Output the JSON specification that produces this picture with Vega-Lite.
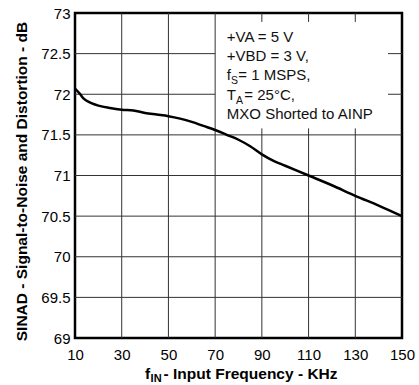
{
  "$schema": "https://vega.github.io/schema/vega-lite/v6.json",
  "width": 327,
  "height": 325,
  "autosize": {"type": "none"},
  "padding": {"left": 75, "top": 13, "right": 17, "bottom": 47},
  "background": "white",
  "config": {
    "font": "Liberation Sans",
    "view": {"stroke": "black", "strokeWidth": 2.5},
    "axis": {
      "grid": false,
      "ticks": false,
      "domain": false,
      "labelFont": "Liberation Sans",
      "labelFontSize": 15,
      "labelColor": "black",
      "titleFont": "Liberation Sans",
      "titleColor": "black"
    }
  },
  "datasets": {
    "curve": [
      {"f": 10, "sinad": 72.07},
      {"f": 11, "sinad": 72.04},
      {"f": 12, "sinad": 72.01},
      {"f": 13, "sinad": 71.97},
      {"f": 14, "sinad": 71.94},
      {"f": 15, "sinad": 71.92},
      {"f": 17, "sinad": 71.89},
      {"f": 20, "sinad": 71.86},
      {"f": 25, "sinad": 71.83},
      {"f": 30, "sinad": 71.81},
      {"f": 35, "sinad": 71.8},
      {"f": 40, "sinad": 71.77},
      {"f": 45, "sinad": 71.75},
      {"f": 50, "sinad": 71.73},
      {"f": 55, "sinad": 71.7},
      {"f": 60, "sinad": 71.66},
      {"f": 65, "sinad": 71.61},
      {"f": 70, "sinad": 71.56},
      {"f": 75, "sinad": 71.5},
      {"f": 80, "sinad": 71.44},
      {"f": 85, "sinad": 71.36},
      {"f": 90, "sinad": 71.26},
      {"f": 95, "sinad": 71.18},
      {"f": 100, "sinad": 71.12},
      {"f": 105, "sinad": 71.06},
      {"f": 110, "sinad": 71.0},
      {"f": 120, "sinad": 70.88},
      {"f": 130, "sinad": 70.75},
      {"f": 140, "sinad": 70.63},
      {"f": 150, "sinad": 70.5}
    ],
    "grid": [
      {"g": "v30", "x": 30, "y": 69}, {"g": "v30", "x": 30, "y": 73},
      {"g": "v50", "x": 50, "y": 69}, {"g": "v50", "x": 50, "y": 73},
      {"g": "v70", "x": 70, "y": 69}, {"g": "v70", "x": 70, "y": 73},
      {"g": "v90a", "x": 90, "y": 69}, {"g": "v90a", "x": 90, "y": 71.58},
      {"g": "v90b", "x": 90, "y": 72.89}, {"g": "v90b", "x": 90, "y": 73},
      {"g": "v110a", "x": 110, "y": 69}, {"g": "v110a", "x": 110, "y": 71.58},
      {"g": "v110b", "x": 110, "y": 72.89}, {"g": "v110b", "x": 110, "y": 73},
      {"g": "v130a", "x": 130, "y": 69}, {"g": "v130a", "x": 130, "y": 71.58},
      {"g": "v130b", "x": 130, "y": 72.89}, {"g": "v130b", "x": 130, "y": 73},
      {"g": "h69.5", "x": 10, "y": 69.5}, {"g": "h69.5", "x": 150, "y": 69.5},
      {"g": "h70", "x": 10, "y": 70}, {"g": "h70", "x": 150, "y": 70},
      {"g": "h70.5", "x": 10, "y": 70.5}, {"g": "h70.5", "x": 150, "y": 70.5},
      {"g": "h71", "x": 10, "y": 71}, {"g": "h71", "x": 150, "y": 71},
      {"g": "h71.5", "x": 10, "y": 71.5}, {"g": "h71.5", "x": 150, "y": 71.5},
      {"g": "h72a", "x": 10, "y": 72}, {"g": "h72a", "x": 70, "y": 72},
      {"g": "h72b", "x": 144, "y": 72}, {"g": "h72b", "x": 150, "y": 72},
      {"g": "h72.5a", "x": 10, "y": 72.5}, {"g": "h72.5a", "x": 70, "y": 72.5},
      {"g": "h72.5b", "x": 144, "y": 72.5}, {"g": "h72.5b", "x": 150, "y": 72.5}
    ],
    "notes": [
      {"kind": "plain", "x": 75, "y": 72.647, "main": "+VA = 5 V", "sub": "", "rest": ""},
      {"kind": "plain", "x": 75, "y": 72.413, "main": "+VBD = 3 V,", "sub": "", "rest": ""},
      {"kind": "fs", "x": 75, "y": 72.17, "main": "f", "sub": "S", "rest": " = 1 MSPS,"},
      {"kind": "ta", "x": 75, "y": 71.93, "main": "T", "sub": "A", "rest": "= 25°C,"},
      {"kind": "plain", "x": 75, "y": 71.69, "main": "MXO Shorted to AINP", "sub": "", "rest": ""}
    ],
    "xtitle": [
      {"x": 40, "y": 68.49, "main": "f", "sub": "IN", "rest": " - Input Frequency - KHz"}
    ]
  },
  "layer": [
    {
      "data": {"name": "grid"},
      "mark": {"type": "line", "color": "#333", "strokeWidth": 1},
      "encoding": {
        "detail": {"field": "g", "type": "nominal"},
        "order": {"field": "y", "type": "quantitative"},
        "x": {
          "field": "x", "type": "quantitative",
          "scale": {"domain": [10, 150], "nice": false, "zero": false},
          "axis": {
            "values": [10, 30, 50, 70, 90, 110, 130, 150],
            "title": null,
            "labelPadding": 9,
            "labelFlush": false,
            "labelOverlap": false
          }
        },
        "y": {
          "field": "y", "type": "quantitative",
          "scale": {"domain": [69, 73], "nice": false, "zero": false},
          "axis": {
            "values": [69, 69.5, 70, 70.5, 71, 71.5, 72, 72.5, 73],
            "format": "~f",
            "labelPadding": 5,
            "labelFlush": false,
            "labelOverlap": false,
            "title": "SINAD - Signal-to-Noise and Distortion - dB",
            "titleFontSize": 15.5,
            "titleFontWeight": "bold",
            "titlePadding": 11,
            "titleY": 168
          }
        }
      }
    },
    {
      "data": {"name": "curve"},
      "mark": {"type": "line", "color": "black", "strokeWidth": 2.5, "interpolate": "monotone"},
      "encoding": {
        "x": {"field": "f", "type": "quantitative"},
        "y": {"field": "sinad", "type": "quantitative"}
      }
    },
    {
      "data": {"name": "notes"},
      "mark": {"type": "text", "align": "left", "baseline": "alphabetic", "fontSize": 15, "color": "#111"},
      "encoding": {
        "x": {"field": "x", "type": "quantitative"},
        "y": {"field": "y", "type": "quantitative"},
        "text": {"field": "main"}
      }
    },
    {
      "data": {"name": "notes"},
      "transform": [{"filter": "datum.kind == 'fs'"}],
      "layer": [
        {
          "mark": {"type": "text", "align": "left", "baseline": "alphabetic", "fontSize": 10.5, "dx": 4.2, "dy": 4, "color": "#111"},
          "encoding": {
            "x": {"field": "x", "type": "quantitative"},
            "y": {"field": "y", "type": "quantitative"},
            "text": {"field": "sub"}
          }
        },
        {
          "mark": {"type": "text", "align": "left", "baseline": "alphabetic", "fontSize": 15, "dx": 11.5, "color": "#111"},
          "encoding": {
            "x": {"field": "x", "type": "quantitative"},
            "y": {"field": "y", "type": "quantitative"},
            "text": {"field": "rest"}
          }
        }
      ]
    },
    {
      "data": {"name": "notes"},
      "transform": [{"filter": "datum.kind == 'ta'"}],
      "layer": [
        {
          "mark": {"type": "text", "align": "left", "baseline": "alphabetic", "fontSize": 10.5, "dx": 9.2, "dy": 4, "color": "#111"},
          "encoding": {
            "x": {"field": "x", "type": "quantitative"},
            "y": {"field": "y", "type": "quantitative"},
            "text": {"field": "sub"}
          }
        },
        {
          "mark": {"type": "text", "align": "left", "baseline": "alphabetic", "fontSize": 15, "dx": 17.5, "color": "#111"},
          "encoding": {
            "x": {"field": "x", "type": "quantitative"},
            "y": {"field": "y", "type": "quantitative"},
            "text": {"field": "rest"}
          }
        }
      ]
    },
    {
      "data": {"name": "xtitle"},
      "layer": [
        {
          "mark": {"type": "text", "align": "left", "baseline": "alphabetic", "fontSize": 15.5, "fontWeight": "bold", "color": "black"},
          "encoding": {
            "x": {"field": "x", "type": "quantitative"},
            "y": {"field": "y", "type": "quantitative"},
            "text": {"field": "main"}
          }
        },
        {
          "mark": {"type": "text", "align": "left", "baseline": "alphabetic", "fontSize": 11, "fontWeight": "bold", "dx": 5.5, "dy": 3, "color": "black"},
          "encoding": {
            "x": {"field": "x", "type": "quantitative"},
            "y": {"field": "y", "type": "quantitative"},
            "text": {"field": "sub"}
          }
        },
        {
          "mark": {"type": "text", "align": "left", "baseline": "alphabetic", "fontSize": 15.5, "fontWeight": "bold", "dx": 18.5, "color": "black"},
          "encoding": {
            "x": {"field": "x", "type": "quantitative"},
            "y": {"field": "y", "type": "quantitative"},
            "text": {"field": "rest"}
          }
        }
      ]
    }
  ]
}
